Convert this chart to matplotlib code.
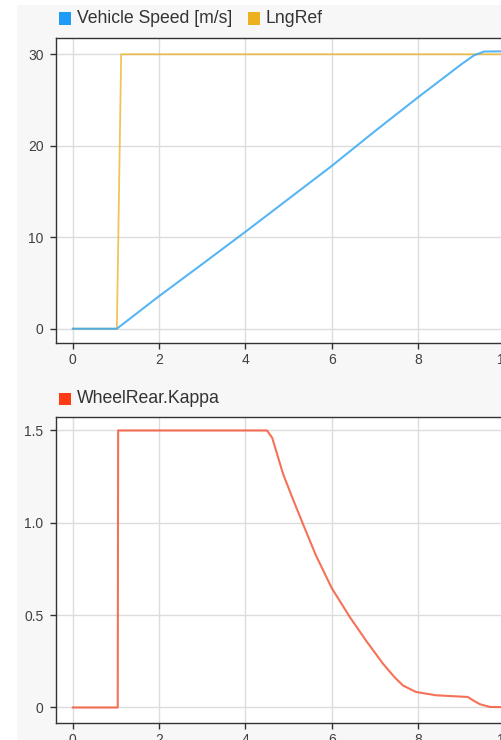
import matplotlib
matplotlib.use("Agg")
import matplotlib.pyplot as plt
from matplotlib.patches import Rectangle

# Vehicle speed [m/s]
speed_time = [0, 1.02, 2.0, 3.0, 4.0, 5.0, 6.0, 7.0, 8.0, 9.0, 9.3, 9.53, 10.5]
speed = [0, 0, 3.57, 7.07, 10.6, 14.2, 17.8, 21.6, 25.3, 28.9, 29.9, 30.3, 30.35]

# LngRef step
ref_time = [0, 1.02, 1.12, 10.5]
ref = [0, 0, 30, 30]

# WheelRear.Kappa
kappa_time = [0, 1.04, 1.05, 4.5, 4.62, 4.875, 5.1, 5.34, 5.63, 6.0, 6.42, 6.8,
              7.19, 7.45, 7.65, 7.95, 8.42, 9.15, 9.3, 9.43, 9.66, 10.5]
kappa = [0, 0, 1.5, 1.5, 1.46, 1.262, 1.128, 0.989, 0.825, 0.646, 0.489, 0.36,
         0.236, 0.165, 0.119, 0.084, 0.066, 0.057, 0.035, 0.018, 0.003, 0.0]

x_ticks = [0, 2, 4, 6, 8, 10]
top_yticks = [0, 10, 20, 30]
bottom_yticks = [0, 0.5, 1.0, 1.5]
bottom_ylabels = ["0", "0.5", "1.0", "1.5"]

BLUE_LINE, BLUE_KEY = "#3aa9f5", "#1e9bf5"
ORANGE_LINE, ORANGE_KEY = "#edb120", "#edb120"
RED_LINE, RED_KEY = "#f4583a", "#ff3a14"

plt.rcParams["font.family"] = ["Liberation Sans", "DejaVu Sans"]

W, H = 502, 740
fig = plt.figure(figsize=(W / 100, H / 100), dpi=100, facecolor="white")
fig.patches.append(Rectangle((17 / W, 0), 1, 1 - 5 / H, transform=fig.transFigure,
                             facecolor="#f7f7f7", edgecolor="none", zorder=-10))


def px_box(left, top, right, bottom):
    return [left / W, 1 - bottom / H, (right - left) / W, (bottom - top) / H]


def style(ax, ylim, yticks, ylabels=None):
    ax.set_facecolor("white")
    ax.set_xlim(-0.39, 10.5)
    ax.set_ylim(*ylim)
    ax.set_xticks(x_ticks)
    ax.set_yticks(yticks)
    if ylabels:
        ax.set_yticklabels(ylabels)
    ax.grid(True, color="#dcdcdc", linewidth=1.0)
    ax.set_axisbelow(True)
    for side in ["left", "bottom", "top"]:
        ax.spines[side].set_color("#333333")
        ax.spines[side].set_linewidth(1.0)
    ax.spines["right"].set_visible(False)
    ax.tick_params(direction="out", length=4, width=1, color="#333333",
                   labelcolor="#404040", labelsize=10)
    ax.tick_params(axis="y", pad=5)
    ax.tick_params(axis="x", pad=3.5)


def key(x, y, color, label):
    fig.patches.append(Rectangle((x / W, 1 - (y + 6) / H), 12 / W, 12 / H,
                                 transform=fig.transFigure, facecolor=color,
                                 edgecolor="none"))
    fig.text((x + 18) / W, 1 - y / H, label, fontsize=12.7, color="#333333",
             va="center", ha="left")


# top panel
ax1 = fig.add_axes(px_box(56, 38, 526, 343))
style(ax1, (-1.56, 31.78), top_yticks)
ax1.plot(ref_time, ref, color=ORANGE_LINE, linewidth=1.3, alpha=0.75)
ax1.plot(speed_time, speed, color=BLUE_LINE, linewidth=1.5, alpha=0.85)
key(59, 18.5, BLUE_KEY, "Vehicle Speed [m/s]")
key(248, 18.5, ORANGE_KEY, "LngRef")

# bottom panel
ax2 = fig.add_axes(px_box(56, 417, 526, 723))
style(ax2, (-0.084, 1.573), bottom_yticks, bottom_ylabels)
ax2.plot(kappa_time, kappa, color=RED_LINE, linewidth=1.5, alpha=0.85)
key(59, 398.5, RED_KEY, "WheelRear.Kappa")

fig.savefig("out.png", dpi=100)
